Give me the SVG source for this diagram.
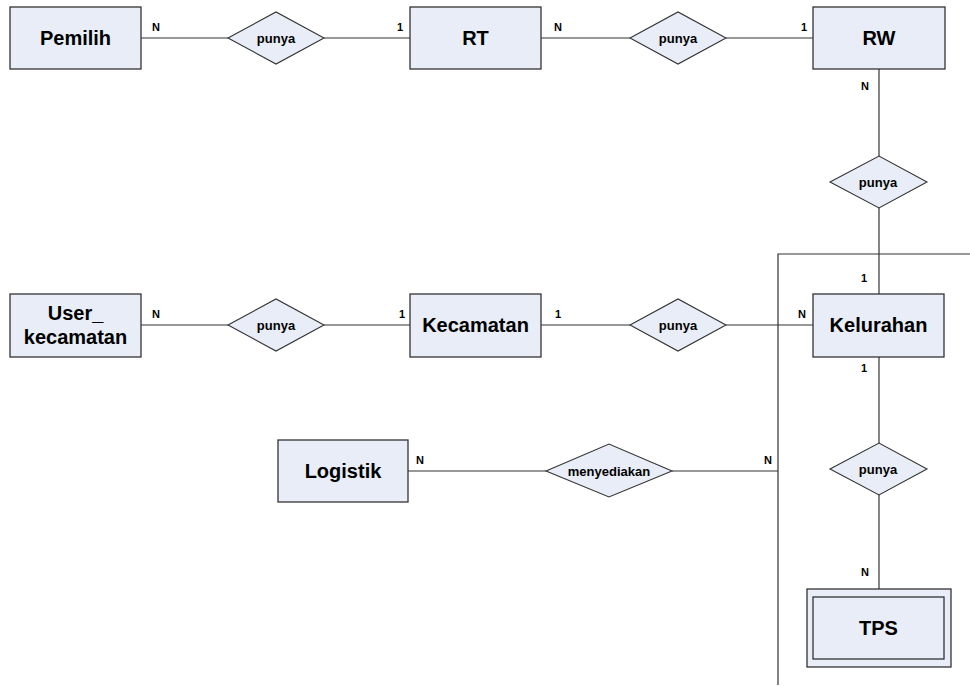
<svg xmlns="http://www.w3.org/2000/svg" width="970" height="686" viewBox="0 0 970 686">
<style>
.ent{fill:#e8edf7;stroke:#333;stroke-width:1.3}
.rel{fill:#e8edf7;stroke:#333;stroke-width:1.1}
.ln{stroke:#333;stroke-width:1.2;fill:none}
.et{font-family:"Liberation Sans",Arial,sans-serif;font-weight:bold;font-size:20px;fill:#000;text-anchor:middle}
.rt{font-family:"Liberation Sans",Arial,sans-serif;font-weight:bold;font-size:13px;fill:#000;text-anchor:middle}
.ct{font-family:"Liberation Sans",Arial,sans-serif;font-weight:bold;font-size:11px;fill:#000;text-anchor:middle}
</style>
<rect width="970" height="686" fill="#fff"/>
<g id="connectors">
<line class="ln" x1="141" y1="38" x2="228" y2="38"/>
<line class="ln" x1="324" y1="38" x2="410" y2="38"/>
<line class="ln" x1="541" y1="38" x2="630" y2="38"/>
<line class="ln" x1="726" y1="38" x2="813" y2="38"/>
<line class="ln" x1="879" y1="69" x2="879" y2="156"/>
<line class="ln" x1="879" y1="208" x2="879" y2="294"/>
<polyline class="ln" points="970,254 778,254 778,685"/>
<line class="ln" x1="141" y1="325" x2="228" y2="325"/>
<line class="ln" x1="324" y1="325" x2="410" y2="325"/>
<line class="ln" x1="541" y1="325" x2="630" y2="325"/>
<line class="ln" x1="726" y1="325" x2="813" y2="325"/>
<line class="ln" x1="408" y1="471" x2="546" y2="471"/>
<line class="ln" x1="672" y1="471" x2="778" y2="471"/>
<line class="ln" x1="879" y1="357" x2="879" y2="443"/>
<line class="ln" x1="879" y1="495" x2="879" y2="589"/>
<text class="ct" x="156" y="31">N</text>
<text class="ct" x="400" y="31">1</text>
<text class="ct" x="558" y="31">N</text>
<text class="ct" x="804" y="31">1</text>
<text class="ct" x="865" y="90">N</text>
<text class="ct" x="864" y="282">1</text>
<text class="ct" x="156" y="318">N</text>
<text class="ct" x="402" y="318">1</text>
<text class="ct" x="558" y="318">1</text>
<text class="ct" x="802" y="318">N</text>
<text class="ct" x="420" y="464">N</text>
<text class="ct" x="768" y="464">N</text>
<text class="ct" x="864" y="372">1</text>
<text class="ct" x="865" y="576">N</text>
</g>
<g id="Pemilih"><rect class="ent" x="10" y="7" width="131" height="62"/><text class="et" x="75.5" y="45">Pemilih</text></g>
<g id="rel1"><polygon class="rel" points="228,38 276,12 324,38 276,64"/><text class="rt" x="276" y="43">punya</text></g>
<g id="RT"><rect class="ent" x="410" y="7" width="131" height="62"/><text class="et" x="475.5" y="45">RT</text></g>
<g id="rel2"><polygon class="rel" points="630,38 678,12 726,38 678,64"/><text class="rt" x="678" y="43">punya</text></g>
<g id="RW"><rect class="ent" x="813" y="7" width="132" height="62"/><text class="et" x="879" y="45">RW</text></g>
<g id="rel3"><polygon class="rel" points="830,182 879,156 927,182 879,208"/><text class="rt" x="878" y="187">punya</text></g>
<g id="User_kecamatan"><rect class="ent" x="10" y="294" width="131" height="63"/><text class="et" x="75.5" y="320">User_</text><text class="et" x="75.5" y="344">kecamatan</text></g>
<g id="rel4"><polygon class="rel" points="228,325 276,299 324,325 276,351"/><text class="rt" x="276" y="330">punya</text></g>
<g id="Kecamatan"><rect class="ent" x="410" y="294" width="131" height="63"/><text class="et" x="475.5" y="332">Kecamatan</text></g>
<g id="rel5"><polygon class="rel" points="630,325 678,299 726,325 678,351"/><text class="rt" x="678" y="330">punya</text></g>
<g id="Kelurahan"><rect class="ent" x="813" y="294" width="131" height="63"/><text class="et" x="878.5" y="332">Kelurahan</text></g>
<g id="Logistik"><rect class="ent" x="278" y="440" width="130" height="62"/><text class="et" x="343" y="478">Logistik</text></g>
<g id="rel6"><polygon class="rel" points="546,471 609,444 672,471 609,497"/><text class="rt" x="609" y="476">menyediakan</text></g>
<g id="rel7"><polygon class="rel" points="830,469 879,443 927,469 879,495"/><text class="rt" x="878" y="474">punya</text></g>
<g id="TPS"><rect class="ent" x="807" y="589" width="144" height="78"/><rect class="ent" x="813" y="597" width="131" height="62"/><text class="et" x="878.5" y="635">TPS</text></g>
</svg>
